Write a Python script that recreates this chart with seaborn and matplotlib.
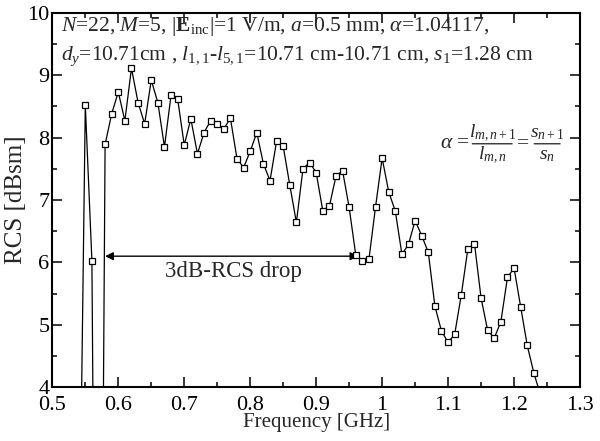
import numpy as np
import pandas as pd
import matplotlib
matplotlib.use("Agg")
import matplotlib.pyplot as plt
from matplotlib.transforms import offset_copy
import seaborn as sns

# ---- data ----
freq_ghz = [0.54, 0.55, 0.56, 0.57, 0.58, 0.59, 0.60, 0.61, 0.62, 0.63, 0.64,
            0.65, 0.66, 0.67, 0.68, 0.69, 0.70, 0.71, 0.72, 0.73, 0.74, 0.75,
            0.76, 0.77, 0.78, 0.79, 0.80, 0.81, 0.82, 0.83, 0.84, 0.85, 0.86,
            0.87, 0.88, 0.89, 0.90, 0.91, 0.92, 0.93, 0.94, 0.95, 0.96, 0.97,
            0.98, 0.99, 1.00, 1.01, 1.02, 1.03, 1.04, 1.05, 1.06, 1.07, 1.08,
            1.09, 1.10, 1.11, 1.12, 1.13, 1.14, 1.15, 1.16, 1.17, 1.18, 1.19,
            1.20, 1.21, 1.22, 1.23, 1.24]
rcs_dbsm = [0.3, 8.52, 6.03, -8.0, 7.89, 8.38, 8.73, 8.27, 9.11, 8.56, 8.22,
            8.92, 8.56, 7.85, 8.68, 8.62, 7.88, 8.30, 7.74, 8.08, 8.27, 8.22,
            8.14, 8.31, 7.66, 7.52, 7.78, 8.08, 7.58, 7.31, 7.94, 7.86, 7.24,
            6.64, 7.50, 7.60, 7.44, 6.83, 6.90, 7.38, 7.47, 6.88, 6.12, 6.03,
            6.05, 6.89, 7.67, 7.13, 6.82, 6.13, 6.29, 6.67, 6.43, 6.16, 5.30,
            4.90, 4.72, 4.85, 5.48, 6.22, 6.30, 5.43, 4.91, 4.79, 5.05, 5.76,
            5.91, 5.29, 4.67, 4.23, 3.88]

x_ticks = [0.5, 0.6, 0.7, 0.8, 0.9, 1.0, 1.1, 1.2, 1.3]
x_tick_labels = ["0.5", "0.6", "0.7", "0.8", "0.9", "1", "1.1", "1.2", "1.3"]
y_ticks = [4, 5, 6, 7, 8, 9, 10]
y_tick_labels = ["4", "5", "6", "7", "8", "9", "10"]
drop_start, drop_end, drop_level = 0.58, 0.964, 6.1

df = pd.DataFrame({"Frequency": freq_ghz, "RCS": rcs_dbsm})

sns.set_style("ticks")
plt.rcParams["font.family"] = ["Liberation Serif", "DejaVu Serif"]
plt.rcParams["mathtext.fontset"] = "custom"
plt.rcParams["mathtext.rm"] = "Liberation Serif"
plt.rcParams["mathtext.it"] = "Liberation Serif:italic"
plt.rcParams["mathtext.bf"] = "Liberation Serif:bold"

fig = plt.figure(figsize=(6.0, 4.41), dpi=100)
ax = fig.add_axes([0.0872, 0.1218, 0.8795, 0.8494])

sns.lineplot(data=df, x="Frequency", y="RCS", ax=ax, color="black",
             linewidth=0.9, marker="s", markersize=4.8,
             markerfacecolor="white", markeredgecolor="black",
             markeredgewidth=0.9, sort=False, zorder=3)

ax.set_xlim(0.5, 1.3)
ax.set_ylim(4, 10)
ax.set_xticks(x_ticks)
ax.set_xticklabels(x_tick_labels)
ax.set_yticks(y_ticks)
ax.set_yticklabels(y_tick_labels)
ax.set_xticks(np.arange(0.55, 1.3, 0.1), minor=True)
ax.set_yticks(np.arange(4.5, 10, 1.0), minor=True)
ax.tick_params(which="both", direction="in", top=True, right=True,
               labelsize=16, width=1.1, colors="black")
ax.tick_params(axis="x", which="both", pad=6)
ax.tick_params(axis="y", which="both", pad=2)
ax.tick_params(which="major", length=7)
ax.tick_params(which="minor", length=3.5)
for s in ax.spines.values():
    s.set_linewidth(1.5)
    s.set_color("black")

ax.set_xlabel("Frequency [GHz]", fontsize=15, labelpad=-1)
ax.set_ylabel("RCS [dBsm]", fontsize=18, labelpad=0)

ax.text(0.0165, 0.995,
        r"$N$=22, $M$=5, |$\mathbf{E}_{\mathrm{inc}}$|=1 V/m, $a$=0.5 mm, $\alpha$=1.04117,",
        transform=ax.transAxes, fontsize=15.5, va="top", ha="left")
ax.text(0.0165, 0.915,
        r"$d_y$=10.71cm , $l_{1,1}$-$l_{5,1}$=10.71 cm-10.71 cm, $s_1$=1.28 cm",
        transform=ax.transAxes, fontsize=15.5, va="top", ha="left")

# ---- formula alpha = l_{m,n+1}/l_{m,n} = s_{n+1}/s_n, built from pieces ----
fx, fy = 1.182, 7.9


def off(dx, dy):
    return offset_copy(ax.transData, fig=fig, x=dx, y=dy, units="dots")


ax.text(fx, fy, r"$\alpha$ =", transform=off(-32, 0), fontsize=15.5,
        ha="right", va="center")
ax.text(fx, fy, r"$l_{m,n+1}$", transform=off(-10, 10), fontsize=14,
        ha="center", va="center")
ax.text(fx, fy, r"$l_{m,n}$", transform=off(-10, -12), fontsize=14,
        ha="center", va="center")
ax.annotate("", xy=(fx, fy), xycoords=off(-30, 0), xytext=(fx, fy),
            textcoords=off(10, 0),
            arrowprops=dict(arrowstyle="-", lw=0.8, color="black",
                            shrinkA=0, shrinkB=0))
ax.text(fx, fy, "=", transform=off(21, 0), fontsize=15.5,
        ha="center", va="center")
ax.text(fx, fy, r"$s_{n+1}$", transform=off(45, 10), fontsize=14,
        ha="center", va="center")
ax.text(fx, fy, r"$s_{n}$", transform=off(45, -12), fontsize=14,
        ha="center", va="center")
ax.annotate("", xy=(fx, fy), xycoords=off(32, 0), xytext=(fx, fy),
            textcoords=off(58, 0),
            arrowprops=dict(arrowstyle="-", lw=0.8, color="black",
                            shrinkA=0, shrinkB=0))

ax.annotate("", xy=(drop_start, drop_level), xytext=(drop_end, drop_level),
            arrowprops=dict(arrowstyle="<|-|>", color="black", lw=1.0,
                            mutation_scale=12, shrinkA=0, shrinkB=0),
            zorder=2)
ax.text((drop_start + drop_end) / 2 + 0.003, 5.86, "3dB-RCS drop",
        fontsize=16.5, ha="center", va="center")

fig.savefig("out.png", dpi=100)
